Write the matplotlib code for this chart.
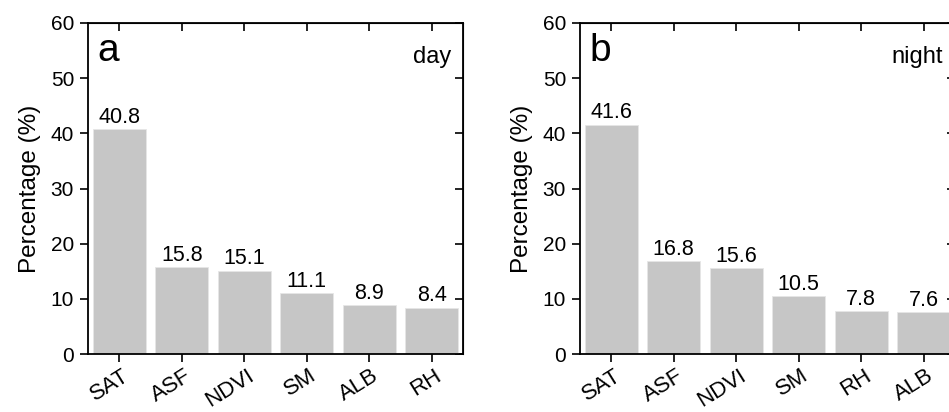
import matplotlib
matplotlib.use('Agg')
import matplotlib.pyplot as plt
import matplotlib.transforms as mtransforms
import numpy as np

plt.rcParams['font.family'] = ['Liberation Sans', 'DejaVu Sans']

# Data
day_labels = ['SAT', 'ASF', 'NDVI', 'SM', 'ALB', 'RH']
day_values = [40.8, 15.8, 15.1, 11.1, 8.9, 8.4]
night_labels = ['SAT', 'ASF', 'NDVI', 'SM', 'RH', 'ALB']
night_values = [41.6, 16.8, 15.6, 10.5, 7.8, 7.6]

bar_color = '#c6c6c6'
W, H = 949, 412

fig = plt.figure(figsize=(9.49, 4.12), dpi=100)


def panel(left_px, labels, values, letter, tag):
    ax = fig.add_axes([left_px / W, 1 - 354 / H, 375 / W, 331 / H])
    x = np.arange(len(labels))
    ax.bar(x, values, width=0.85, color=bar_color, edgecolor='#e6e6e6', linewidth=0.6)
    ax.set_xlim(-0.5, 5.5)
    ax.set_ylim(0, 60)
    ax.set_yticks(np.arange(0, 61, 10))
    ax.set_xticks(x)
    ax.set_xticklabels([])
    ax.tick_params(direction='out', length=6, width=1.2, labelsize=15, pad=4)
    for s in ax.spines.values():
        s.set_linewidth(1.3)
    ax.set_ylabel('Percentage (%)', fontsize=17.5, labelpad=7)

    # rotated category labels, placed like the original
    offset = mtransforms.ScaledTranslation(8 / 100, -20 / 100, fig.dpi_scale_trans)
    for xi, lab in zip(x, labels):
        ax.text(xi, 0, lab, transform=ax.get_xaxis_transform() + offset,
                rotation=32, rotation_mode='anchor', ha='right', va='center',
                fontsize=16)

    # mirrored inward ticks on top and right
    top = ax.secondary_xaxis('top')
    top.set_xticks(x)
    top.tick_params(direction='in', length=6, width=1.2, labeltop=False)
    right = ax.secondary_yaxis('right')
    right.set_yticks(np.arange(0, 61, 10))
    right.tick_params(direction='in', length=6, width=1.2, labelright=False)

    for xi, v in zip(x, values):
        ax.annotate(f'{v:.1f}', (xi, v), xytext=(0, 4.5), textcoords='offset points',
                    ha='center', va='baseline', fontsize=15.5)

    ax.text(0.026, 0.885, letter, transform=ax.transAxes, fontsize=28,
            ha='left', va='baseline')
    ax.text(0.968, 0.879, tag, transform=ax.transAxes, fontsize=17,
            ha='right', va='baseline')
    return ax


panel(88, day_labels, day_values, 'a', 'day')
panel(580, night_labels, night_values, 'b', 'night')

fig.savefig('out.png', dpi=100)
